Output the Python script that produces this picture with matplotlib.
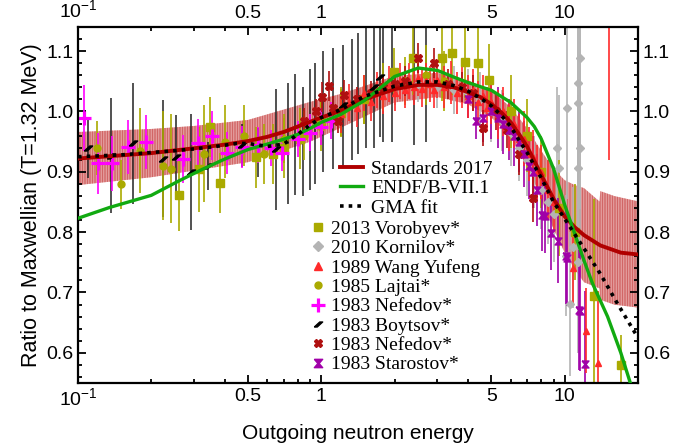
import numpy as np
import matplotlib
matplotlib.use("Agg")
import matplotlib.pyplot as plt
from matplotlib.lines import Line2D
from matplotlib.ticker import NullFormatter

plt.rcParams['font.family'] = ['Liberation Sans', 'DejaVu Sans']
plt.rcParams['mathtext.fontset'] = 'custom'
plt.rcParams['mathtext.rm'] = 'Liberation Sans'
plt.rcParams['hatch.linewidth'] = 0.5

# ---- evaluated curves ----
std_E = [0.1, 0.2, 0.3, 0.4, 0.5, 0.6, 0.7, 0.8, 1.0, 1.2, 1.5, 2.0, 2.5, 3.0, 3.5, 4.0, 4.5,
         5.0, 5.5, 6.0, 6.5, 7.0, 7.5, 8.0, 9.0, 10, 11, 12, 14, 17, 20]
std_v = [0.922, 0.931, 0.939, 0.945, 0.951, 0.958, 0.966, 0.975, 0.990, 1.001, 1.020, 1.037, 1.044,
         1.044, 1.040, 1.032, 1.024, 1.012, 0.998, 0.982, 0.962, 0.942, 0.918, 0.895, 0.855, 0.826,
         0.808, 0.795, 0.778, 0.766, 0.763]

band_E = [0.1, 0.2, 0.3, 0.5, 0.9, 1.2, 2.0, 3.0, 4.0, 5.0, 6.0, 7.0, 8.0, 9.0, 10, 11, 12, 13.9,
          14.0, 16, 20]
band_u = [0.044, 0.040, 0.037, 0.035, 0.033, 0.028, 0.022, 0.020, 0.020, 0.022, 0.025, 0.030, 0.040,
          0.050, 0.060, 0.070, 0.078, 0.072, 0.090, 0.090, 0.088]

endf_E = [0.1, 0.135, 0.2, 0.26, 0.32, 0.4, 0.5, 0.6, 0.7, 0.8, 0.9, 1.0, 1.2, 1.5, 2.0, 2.5, 3.0,
          3.5, 4.0, 5.0, 6.0, 7.0, 7.5, 8.0, 9.0, 10, 11, 12, 13, 15, 17, 18.6]
endf_v = [0.823, 0.841, 0.861, 0.885, 0.903, 0.921, 0.937, 0.946, 0.954, 0.962, 0.972, 0.982, 0.995,
          1.018, 1.058, 1.072, 1.068, 1.057, 1.048, 1.035, 1.015, 0.990, 0.975, 0.955, 0.905, 0.845,
          0.797, 0.753, 0.715, 0.660, 0.600, 0.550]

gma_E = [0.1, 0.15, 0.2, 0.25, 0.3, 0.35, 0.4, 0.45, 0.5, 0.6, 0.7, 0.8, 0.9, 1.0, 1.2, 1.5, 2.0,
         2.5, 3.0, 3.5, 4.0, 4.5, 5.0, 5.5, 6.0, 6.5, 7.0, 8.0, 9.0, 10, 12, 14, 16.5, 20]
gma_v = [0.925, 0.928, 0.932, 0.935, 0.938, 0.941, 0.944, 0.947, 0.947, 0.942, 0.946, 0.962, 0.978,
         0.990, 1.003, 1.025, 1.042, 1.049, 1.049, 1.043, 1.034, 1.022, 1.009, 0.993, 0.975, 0.952,
         0.932, 0.890, 0.850, 0.822, 0.773, 0.731, 0.681, 0.625]

# ---- experimental data ----
vor_E = [0.26, 0.315, 0.349, 0.385, 0.54, 0.63, 0.70, 0.82, 1.0, 1.2, 1.5, 1.98, 2.37, 3.13, 3.45,
         3.9, 4.4, 4.9, 6.0, 7.0, 8.0, 9.5, 11.0, 13.2, 17.0]
vor_v = [0.862, 0.904, 0.974, 0.882, 0.924, 0.929, 0.939, 0.955, 0.985, 0.998, 1.020, 1.065, 1.088,
         1.088, 1.097, 1.082, 1.080, 1.052, 1.000, 0.960, 0.900, 0.840, 0.800, 0.695, 0.580]
vor_e = [0.060, 0.070, 0.050, 0.050, 0.050, 0.050, 0.050, 0.050, 0.040, 0.040, 0.040, 0.040, 0.060,
         0.070, 0.070, 0.060, 0.060, 0.060, 0.060, 0.060, 0.060, 0.080, 0.080, 0.160, 0.050]

kor_E = [1.5, 2.0, 2.5, 3.0, 3.5, 4.0, 4.5, 5.0, 5.5, 6.0, 6.5, 7.0, 7.5, 8.0, 8.5, 9.0, 9.3, 9.5,
         10.1, 10.2, 10.5, 10.8, 11.3, 11.3, 11.3, 11.3, 11.6, 11.6]
kor_v = [1.02, 1.04, 1.045, 1.04, 1.035, 1.03, 1.02, 1.0, 0.985, 0.965, 0.94, 0.92, 0.90, 0.87,
         0.85, 0.83, 0.94, 0.907, 0.761, 1.005, 0.681, 0.775, 1.047, 1.014, 0.907, 0.75, 1.088, 0.94]
kor_e = [0.03, 0.03, 0.03, 0.035, 0.04, 0.04, 0.045, 0.05, 0.05, 0.055, 0.055, 0.06, 0.06, 0.065,
         0.07, 0.08, 0.10, 0.12, 0.10, 0.15, 0.12, 0.10, 0.20, 0.20, 0.12, 0.15, 0.25, 0.20]

wang_E = [1.2, 1.3, 1.4, 1.5, 1.6, 1.7, 1.8, 1.9, 2.0, 2.1, 2.2, 2.3, 2.4, 2.5, 2.6, 2.7, 2.8, 2.9,
          3.0, 3.2, 3.4, 3.6, 3.8, 4.0, 4.2, 4.4, 4.6, 4.8, 5.0, 5.3, 5.6, 5.9, 6.2, 6.5, 6.8, 7.1,
          7.4, 7.7, 8.0, 8.5, 9.0, 10.8, 12.2, 13.7, 15.2]
wang_v = [0.995, 1.015, 1.005, 1.03, 1.015, 1.035, 1.025, 1.045, 1.03, 1.05, 1.035, 1.05, 1.04,
          1.055, 1.038, 1.05, 1.045, 1.035, 1.052, 1.04, 1.048, 1.03, 1.04, 1.025, 1.035, 1.015,
          1.025, 1.005, 1.015, 0.995, 1.0, 0.975, 0.98, 0.955, 0.955, 0.93, 0.925, 0.9, 0.9, 0.87,
          0.85, 0.74, 0.637, 0.583, 1.32]
wang_e = [0.03, 0.03, 0.03, 0.03, 0.03, 0.03, 0.03, 0.03, 0.03, 0.03, 0.03, 0.03, 0.03, 0.03, 0.03,
          0.03, 0.03, 0.03, 0.03, 0.035, 0.035, 0.035, 0.035, 0.035, 0.035, 0.035, 0.035, 0.035,
          0.035, 0.04, 0.04, 0.04, 0.04, 0.04, 0.045, 0.045, 0.045, 0.045, 0.045, 0.05, 0.05, 0.06,
          0.07, 0.12, 0.40]

laj_E = [0.12, 0.15, 0.18, 0.224, 0.24, 0.33, 0.4, 0.48, 0.58, 0.7, 0.85, 1.0, 1.2, 1.5, 1.8, 2.2,
         2.7, 3.2]
laj_v = [0.94, 0.879, 0.935, 0.91, 0.905, 0.93, 0.95, 0.96, 0.93, 0.955, 0.96, 0.975, 1.0, 1.02,
         1.04, 1.05, 1.06, 1.05]
laj_e = [0.045, 0.04, 0.07, 0.09, 0.09, 0.08, 0.06, 0.05, 0.05, 0.04, 0.04, 0.04, 0.04, 0.04, 0.04,
         0.04, 0.05, 0.05]

nefp_E = [0.106, 0.121, 0.138, 0.16, 0.19, 0.27, 0.31, 0.356, 0.41, 0.47, 0.55, 0.62, 0.69, 0.8,
          0.9, 1.0, 1.1]
nefp_v = [0.989, 0.914, 0.914, 0.941, 0.949, 0.921, 0.947, 0.960, 0.931, 0.941, 0.945, 0.940, 0.931,
          0.955, 0.965, 0.975, 0.985]
nefp_e = [0.055, 0.05, 0.045, 0.045, 0.045, 0.04, 0.04, 0.04, 0.035, 0.035, 0.03, 0.03, 0.03, 0.03,
          0.03, 0.03, 0.03]

boy_E = [0.11, 0.137, 0.168, 0.224, 0.253, 0.29, 0.343, 0.47, 0.55, 0.65, 0.73, 0.78, 0.84, 0.90,
         0.94, 1.02, 1.12, 1.23, 1.34, 1.42, 1.52, 1.65, 1.74, 1.80, 1.96, 2.41, 2.68]
boy_v = [0.939, 0.927, 0.947, 0.922, 0.924, 0.899, 0.91, 0.944, 0.932, 0.937, 0.947, 0.962, 0.95,
         0.97, 0.98, 1.0, 1.005, 1.01, 1.02, 1.03, 1.04, 1.04, 1.057, 1.05, 1.05, 1.044, 1.05]
boy_e = [0.05, 0.095, 0.10, 0.097, 0.07, 0.096, 0.04, 0.036, 0.04, 0.10, 0.10, 0.10, 0.09, 0.10,
         0.10, 0.10, 0.10, 0.10, 0.10, 0.10, 0.10, 0.10, 0.10, 0.10, 0.10, 0.10, 0.10]
boy_shown = [0, 1, 2, 3, 4, 5, 6, 7, 9, 17, 21, 22]

nefx_E = [0.85, 0.95, 1.01, 1.07, 1.12, 1.17, 1.24, 1.4, 1.6, 1.8, 2.0, 2.2, 2.5, 2.9, 3.3, 3.8,
          4.2, 4.6, 5.2, 5.8, 6.5, 7.4]
nefx_v = [0.985, 1.0, 1.024, 1.042, 1.005, 0.985, 1.027, 1.02, 1.03, 1.04, 1.045, 1.05, 1.088, 1.08,
          1.045, 1.04, 1.03, 0.972, 1.0, 0.97, 0.93, 0.857]
nefx_e = [0.02, 0.02, 0.025, 0.025, 0.02, 0.02, 0.025, 0.02, 0.02, 0.02, 0.02, 0.025, 0.025, 0.025,
          0.025, 0.025, 0.03, 0.03, 0.03, 0.03, 0.035, 0.04]

sta_E = [4.0, 4.3, 4.6, 5.0, 5.3, 5.6, 5.9, 6.2, 6.5, 6.8, 7.1, 7.4, 7.7, 8.1, 8.3, 8.8, 9.4, 10.1,
         10.2, 11.4, 11.5, 12.1]
sta_v = [1.02, 0.985, 0.99, 1.0, 0.99, 0.98, 0.97, 0.96, 0.95, 0.93, 0.91, 0.9, 0.87, 0.828, 0.826,
         0.798, 0.786, 0.761, 0.757, 0.671, 0.67, 0.582]
sta_e = [0.03, 0.03, 0.04, 0.045, 0.05, 0.05, 0.05, 0.05, 0.05, 0.055, 0.055, 0.06, 0.06, 0.06, 0.06,
         0.06, 0.07, 0.08, 0.08, 0.10, 0.10, 0.12]

# marker shapes
hourglass = [(-1, 1), (1, 1), (0.15, 0), (1, -1), (-1, -1), (-0.15, 0), (-1, 1)]
slash = [(-1, -0.6), (0.3, 0.6), (1, 0.6), (-0.3, -0.6), (-1, -0.6)]

c_olive = '#aaaa00'
c_grey = '#b4b4b4'
c_red = '#ff2a2a'
c_mag = '#ff00ff'
c_dred = '#b01010'
c_purp = '#a000a8'

fig = plt.figure(figsize=(6.91, 4.43), dpi=100)
ax = fig.add_axes([78/691, 1-383/443, 560/691, 356/443])

# uncertainty band of the standards
b_mid = np.interp(np.log(band_E), np.log(std_E), std_v)
ax.fill_between(band_E, b_mid - np.array(band_u), b_mid + np.array(band_u),
                facecolor='#e8acac', edgecolor='#c84848', hatch='||||||||||', lw=0, zorder=1)

eb = dict(ls='none', capsize=0, elinewidth=1.2)
ax.errorbar(kor_E, kor_v, yerr=kor_e, fmt='D', ms=4.5, color=c_grey, zorder=2, **eb)
ax.errorbar(boy_E, boy_v, yerr=boy_e, fmt='none', ecolor='#222222', elinewidth=1.1, zorder=2)
ax.plot([boy_E[i] for i in boy_shown], [boy_v[i] for i in boy_shown], ls='none', marker=slash,
        ms=6, color='k', zorder=3)
ax.errorbar(laj_E, laj_v, yerr=laj_e, fmt='o', ms=5, color=c_olive, zorder=2, **eb)
ax.errorbar(vor_E, vor_v, yerr=vor_e, fmt='s', ms=6, color=c_olive, zorder=2, **eb)
ax.errorbar(nefp_E, nefp_v, yerr=nefp_e, fmt='+', ms=10, mew=2.3, color=c_mag, zorder=2, **eb)
ax.errorbar(sta_E, sta_v, yerr=sta_e, fmt='none', ecolor=c_purp, elinewidth=1.2, zorder=2)
ax.plot(sta_E, sta_v, ls='none', marker=hourglass, ms=5, color=c_purp, zorder=3)
ax.errorbar(wang_E, wang_v, yerr=wang_e, fmt='^', ms=4.5, color=c_red, zorder=2, **eb)
ax.errorbar(nefx_E, nefx_v, yerr=nefx_e, fmt='X', ms=6, color=c_dred, zorder=2, **eb)

# curves
ax.plot(std_E, std_v, color='#b00000', lw=2.8, zorder=5)
ax.plot(endf_E, endf_v, color='#11aa11', lw=2.4, zorder=5)
ax.plot(gma_E, gma_v, color='k', lw=2.6, ls=(0, (1, 1.4)), zorder=6)

ax.set_xscale('log')
ax.set_xlim(0.1, 20)
ax.set_ylim(0.55, 1.14)
ax.set_xticks([0.1, 0.5, 1, 5, 10], ['$10^{-1}$', '0.5', '1', '5', '10'])
ax.set_xticks([0.2, 0.3, 0.4, 0.6, 0.7, 0.8, 0.9, 2, 3, 4, 6, 7, 8, 9, 20], minor=True)
ax.xaxis.set_minor_formatter(NullFormatter())
ax.set_yticks([0.6, 0.7, 0.8, 0.9, 1.0, 1.1])
ax.set_yticks(np.arange(0.56, 1.14, 0.02), minor=True)
ax.tick_params(which='both', direction='in', top=True, right=True, labeltop=True,
               labelright=True, labelsize=14, width=1.3)
ax.tick_params(which='major', length=6)
ax.tick_params(which='minor', length=3)
for s in ax.spines.values():
    s.set_linewidth(1.6)

ax.set_xlabel('Outgoing neutron energy', fontsize=15, labelpad=10)
ax.set_ylabel('Ratio to Maxwellian (T=1.32 MeV)', fontsize=15.5, labelpad=3)

serif = {'family': 'Liberation Serif', 'size': 14}
h1 = [Line2D([], [], color='#b00000', lw=2.8),
      Line2D([], [], color='#11aa11', lw=2.4),
      Line2D([], [], color='k', lw=2.6, ls=(0, (1, 1.4)))]
fig.legend(h1, ['Standards 2017', 'ENDF/B-VII.1', 'GMA fit'], loc='upper left',
           bbox_to_anchor=(340/691, 1-160/443), frameon=False, prop=serif,
           borderpad=0, borderaxespad=0, labelspacing=0.1, handlelength=1.2,
           handletextpad=0.4)
h2 = [Line2D([], [], ls='none', marker='s', ms=6, color=c_olive),
      Line2D([], [], ls='none', marker='D', ms=5, color=c_grey),
      Line2D([], [], ls='none', marker='^', ms=6, color=c_red),
      Line2D([], [], ls='none', marker='o', ms=5, color=c_olive),
      Line2D([], [], ls='none', marker='+', ms=10, mew=2.3, color=c_mag),
      Line2D([], [], ls='none', marker=slash, ms=6, color='k'),
      Line2D([], [], ls='none', marker='X', ms=6, color=c_dred),
      Line2D([], [], ls='none', marker=hourglass, ms=6, color=c_purp)]
fig.legend(h2, ['2013 Vorobyev*', '2010 Kornilov*', '1989 Wang Yufeng', '1985 Lajtai*',
                '1983 Nefedov*', '1983 Boytsov*', '1983 Nefedov*', '1983 Starostov*'],
           loc='upper left', bbox_to_anchor=(311/691, 1-220/443), frameon=False, prop=serif,
           borderpad=0, borderaxespad=0, labelspacing=0.09, handlelength=0.75,
           handletextpad=0.3)

fig.savefig('out.png', dpi=100)
